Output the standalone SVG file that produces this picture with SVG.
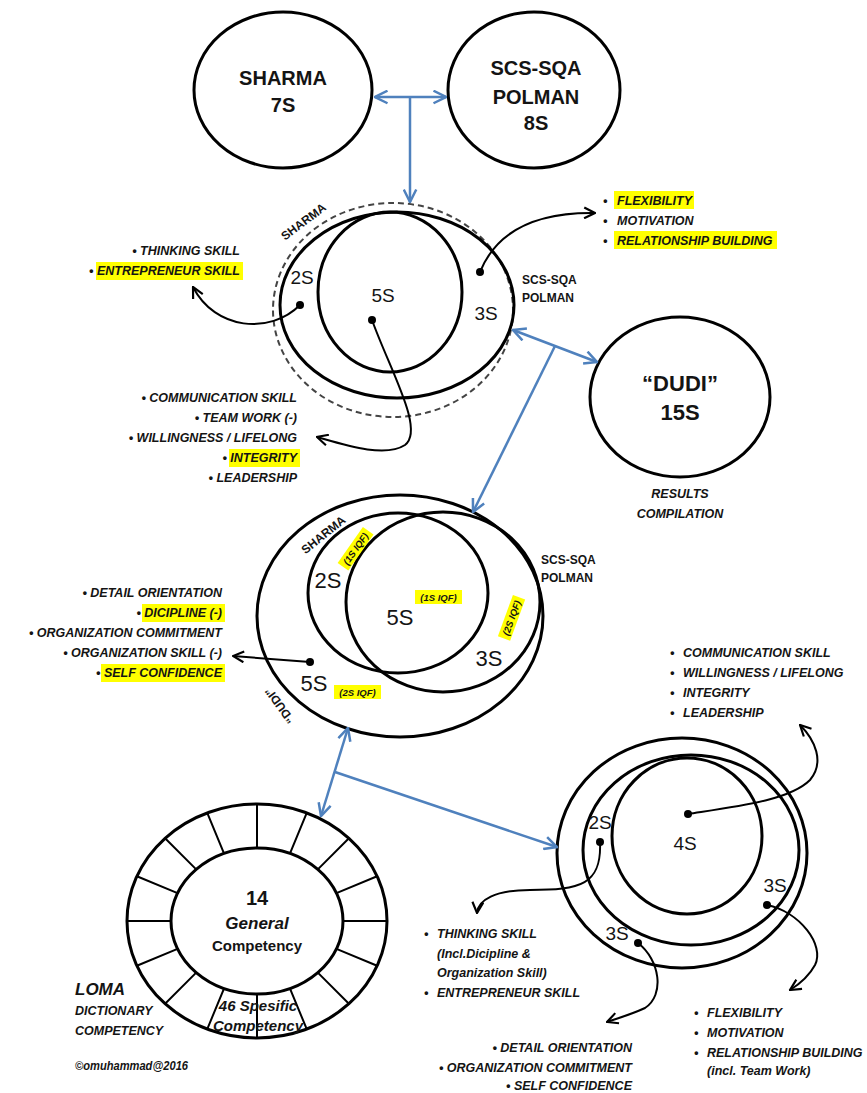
<svg xmlns="http://www.w3.org/2000/svg" width="867" height="1093" viewBox="0 0 867 1093">
<style>
text{font-family:"Liberation Sans",Arial,sans-serif;fill:#141414}
.c{fill:none;stroke:#000;stroke-width:3}
.d{fill:none;stroke:#444;stroke-width:2;stroke-dasharray:6 4}
.sp{stroke:#000;stroke-width:2}
.b{fill:none;stroke:#4f81bd;stroke-width:2.5}
.k{fill:none;stroke:#000;stroke-width:2}
.bi{font-weight:bold;font-style:italic;font-size:12.5px}
.big{font-weight:bold;font-size:20px}
.lab{font-size:19px}
.lab2{font-size:22px}
.sm{font-weight:bold;font-size:12px}
.iqf{font-weight:bold;font-style:italic;font-size:9.5px}
.hl{fill:#ffff00}
.dot{fill:#000}
.e{text-anchor:end}
.m{text-anchor:middle}
</style>
<defs>
<marker id="ak" viewBox="0 0 12 12" refX="11" refY="6" markerWidth="13" markerHeight="13" markerUnits="userSpaceOnUse" orient="auto-start-reverse"><path d="M1,1 L11,6 L1,11" fill="none" stroke="#000" stroke-width="2"/></marker>
<marker id="ab" viewBox="0 0 12 12" refX="11" refY="6" markerWidth="15" markerHeight="15" markerUnits="userSpaceOnUse" orient="auto-start-reverse"><path d="M1,1 L11,6 L1,11" fill="none" stroke="#4f81bd" stroke-width="2"/></marker>
</defs>
<rect width="867" height="1093" fill="#fff"/>

<g id="sharma-top">
<ellipse cx="283" cy="90" rx="89" ry="78" class="c"/>
<text x="283" y="85" class="big m">SHARMA</text>
<text x="283" y="112" class="big m">7S</text>
</g>

<g id="scs-top">
<ellipse cx="534" cy="90" rx="86" ry="78" class="c"/>
<text x="536" y="75" class="big m">SCS-SQA</text>
<text x="536" y="104" class="big m">POLMAN</text>
<text x="536" y="130" class="big m">8S</text>
</g>

<g id="venn-top">
<ellipse cx="393" cy="310" rx="120" ry="107" class="d"/>
<ellipse cx="397" cy="305" rx="117" ry="93" class="c"/>
<ellipse cx="390" cy="292" rx="72" ry="80" class="c"/>
<text transform="translate(306,225) rotate(-37)" class="sm m" font-size="12">SHARMA</text>
<text x="302" y="284" class="lab m">2S</text>
<text x="383" y="302" class="lab m">5S</text>
<text x="486" y="320" class="lab m">3S</text>
<circle cx="300" cy="305" r="4" class="dot"/>
<circle cx="372" cy="320" r="4" class="dot"/>
<circle cx="480" cy="272" r="4" class="dot"/>
<text x="522" y="284" class="sm">SCS-SQA</text>
<text x="522" y="302" class="sm">POLMAN</text>
</g>

<g id="list-top-left">
<rect x="96" y="262" width="147" height="18" class="hl"/>
<text x="240" y="255" class="bi e">• THINKING SKILL</text>
<text x="240" y="275" class="bi e">• ENTREPRENEUR SKILL</text>
</g>

<g id="list-top-right">
<rect x="614" y="191" width="80" height="18" class="hl"/>
<rect x="614" y="231" width="163" height="18" class="hl"/>
<text x="603" y="205" class="bi">•</text><text x="617" y="205" class="bi">FLEXIBILITY</text>
<text x="603" y="225" class="bi">•</text><text x="617" y="225" class="bi">MOTIVATION</text>
<text x="603" y="245" class="bi">•</text><text x="617" y="245" class="bi">RELATIONSHIP BUILDING</text>
</g>

<g id="list-top-bottom">
<rect x="229" y="449" width="71" height="18" class="hl"/>
<text x="297" y="402" class="bi e">• COMMUNICATION SKILL</text>
<text x="297" y="422" class="bi e">• TEAM WORK (-)</text>
<text x="297" y="442" class="bi e">• WILLINGNESS / LIFELONG</text>
<text x="297" y="462" class="bi e">• INTEGRITY</text>
<text x="297" y="482" class="bi e">• LEADERSHIP</text>
</g>

<g id="dudi">
<ellipse cx="680" cy="397" rx="90" ry="80" class="c"/>
<text x="680" y="391" class="m" font-size="22" font-weight="bold">“DUDI”</text>
<text x="680" y="420" class="m" font-size="22" font-weight="bold">15S</text>
<text x="680" y="498" class="bi m" font-size="13">RESULTS</text>
<text x="680" y="518" class="bi m" font-size="13">COMPILATION</text>
</g>

<g id="venn-mid">
<ellipse cx="400" cy="616" rx="143" ry="121" class="c"/>
<ellipse cx="398" cy="593" rx="90" ry="80" class="c"/>
<ellipse cx="443" cy="602" rx="97" ry="90" class="c"/>
<text transform="translate(326,538) rotate(-39)" class="sm m">SHARMA</text>
<text transform="translate(283,703) rotate(-126)" class="sm m">“DUDI”</text>
<g transform="translate(356,549) rotate(-55)"><rect x="-22" y="-7" width="44" height="13" class="hl"/><text y="3" class="iqf m">(1S IQF)</text></g>
<g transform="translate(512,618) rotate(-70)"><rect x="-22" y="-7" width="44" height="13" class="hl"/><text y="3" class="iqf m">(2S IQF)</text></g>
<rect x="415" y="590" width="47" height="14" class="hl"/><text x="438.5" y="600.5" class="iqf m">(1S IQF)</text>
<rect x="334" y="685" width="47" height="14" class="hl"/><text x="357.5" y="695.5" class="iqf m">(2S IQF)</text>
<text x="328" y="588" class="lab2 m">2S</text>
<text x="400" y="625" class="lab2 m">5S</text>
<text x="489" y="666" class="lab2 m">3S</text>
<text x="314" y="691" class="lab2 m">5S</text>
<circle cx="310" cy="662" r="4" class="dot"/>
<text x="541" y="564" class="sm">SCS-SQA</text>
<text x="541" y="582" class="sm">POLMAN</text>
</g>

<g id="list-mid-left">
<rect x="142" y="604" width="83" height="18" class="hl"/>
<rect x="101" y="664" width="124" height="18" class="hl"/>
<text x="222" y="597" class="bi e">• DETAIL ORIENTATION</text>
<text x="222" y="617" class="bi e">• DICIPLINE (-)</text>
<text x="222" y="637" class="bi e">• ORGANIZATION COMMITMENT</text>
<text x="222" y="657" class="bi e">• ORGANIZATION SKILL (-)</text>
<text x="222" y="677" class="bi e">• SELF CONFIDENCE</text>
</g>

<g id="loma">
<ellipse cx="257" cy="921" rx="130" ry="117" class="c"/>
<ellipse cx="257" cy="921" rx="86" ry="73" class="c"/>
<path class="sp" d="M343,921 L387,921 M336.45,948.94 L377.11,965.78 M317.81,972.62 L348.92,1003.73 M289.91,988.44 L306.75,1029.1 M257,994 L257,1038 M224.09,988.44 L207.25,1029.1 M196.19,972.62 L165.08,1003.73 M177.55,948.94 L136.89,965.78 M171,921 L127,921 M177.55,893.06 L136.89,876.22 M196.19,869.38 L165.08,838.27 M224.09,853.56 L207.25,812.9 M257,848 L257,804 M289.91,853.56 L306.75,812.9 M317.81,869.38 L348.92,838.27 M336.45,893.06 L377.11,876.22"/>
<text x="257" y="905" class="m" font-size="20" font-weight="bold">14</text>
<text x="257" y="929" class="m" font-size="17" font-weight="bold" font-style="italic">General</text>
<text x="257" y="951" class="m" font-size="15" font-weight="bold">Competency</text>
<text x="258" y="1011" class="m" font-size="15" font-weight="bold" font-style="italic">46 Spesific</text>
<text x="258" y="1031" class="m" font-size="15" font-weight="bold" font-style="italic">Competency</text>
<text x="75" y="995" font-size="17" font-weight="bold" font-style="italic">LOMA</text>
<text x="75" y="1015" class="bi" font-size="13">DICTIONARY</text>
<text x="75" y="1035" class="bi" font-size="13">COMPETENCY</text>
<text x="75" y="1070" class="bi" font-size="10" textLength="113" lengthAdjust="spacingAndGlyphs">©omuhammad@2016</text>
</g>

<g id="venn-bottom">
<ellipse cx="682" cy="853" rx="125" ry="115" class="c"/>
<ellipse cx="691" cy="850" rx="108" ry="95" class="c"/>
<ellipse cx="687" cy="836" rx="75" ry="78" class="c"/>
<text x="600" y="829" class="lab m" font-size="18">2S</text>
<text x="685" y="850" class="lab m" font-size="21">4S</text>
<text x="775" y="892" class="lab m" font-size="21">3S</text>
<text x="617" y="940" class="lab m" font-size="21">3S</text>
<circle cx="600" cy="842" r="4" class="dot"/>
<circle cx="688" cy="814" r="4" class="dot"/>
<circle cx="767" cy="905" r="4" class="dot"/>
<circle cx="638" cy="943" r="4" class="dot"/>
</g>

<g id="list-br-top">
<text x="670" y="657" class="bi">•</text><text x="683" y="657" class="bi">COMMUNICATION SKILL</text>
<text x="670" y="677" class="bi">•</text><text x="683" y="677" class="bi">WILLINGNESS / LIFELONG</text>
<text x="670" y="697" class="bi">•</text><text x="683" y="697" class="bi">INTEGRITY</text>
<text x="670" y="717" class="bi">•</text><text x="683" y="717" class="bi">LEADERSHIP</text>
</g>

<g id="list-br-thinking">
<text x="424" y="938" class="bi">•</text><text x="437" y="938" class="bi">THINKING SKILL</text>
<text x="437" y="958" class="bi">(Incl.Dicipline &amp;</text>
<text x="437" y="977" class="bi">Organization Skill)</text>
<text x="424" y="997" class="bi">•</text><text x="437" y="997" class="bi">ENTREPRENEUR SKILL</text>
</g>

<g id="list-br-detail">
<text x="632" y="1052" class="bi e">• DETAIL ORIENTATION</text>
<text x="632" y="1072" class="bi e">• ORGANIZATION COMMITMENT</text>
<text x="632" y="1090" class="bi e">• SELF CONFIDENCE</text>
</g>

<g id="list-br-flex">
<text x="694" y="1017" class="bi">•</text><text x="707" y="1017" class="bi">FLEXIBILITY</text>
<text x="694" y="1037" class="bi">•</text><text x="707" y="1037" class="bi">MOTIVATION</text>
<text x="694" y="1057" class="bi">•</text><text x="707" y="1057" class="bi">RELATIONSHIP BUILDING</text>
<text x="707" y="1075" class="bi">(incl. Team Work)</text>
</g>

<g id="connectors">
<path class="b" d="M375,97 L446,97" marker-start="url(#ab)" marker-end="url(#ab)"/>
<path class="b" d="M410,97 L410,202" marker-end="url(#ab)"/>
<path class="b" d="M513,330 L597,362" marker-start="url(#ab)" marker-end="url(#ab)"/>
<path class="b" d="M555,346 L473,512" marker-end="url(#ab)"/>
<path class="b" d="M348,728 L321,816" marker-start="url(#ab)" marker-end="url(#ab)"/>
<path class="b" d="M335,772 L557,847" marker-end="url(#ab)"/>
<path class="k" d="M300,305 C270,335 215,330 193,287" marker-end="url(#ak)"/>
<path class="k" d="M372,320 C390,370 425,430 405,445 C385,458 345,445 317,437" marker-end="url(#ak)"/>
<path class="k" d="M480,272 C495,235 530,212 595,213" marker-end="url(#ak)"/>
<path class="k" d="M310,662 L233,656" marker-end="url(#ak)"/>
<path class="k" d="M688,814 C740,806 790,800 810,780 C825,762 815,740 800,725" marker-end="url(#ak)"/>
<path class="k" d="M600,842 C602,885 580,890 530,890 C495,890 478,900 477,913" marker-end="url(#ak)"/>
<path class="k" d="M638,943 C660,960 665,995 645,1008 C630,1015 615,1019 607,1022" marker-end="url(#ak)"/>
<path class="k" d="M767,905 C800,912 825,945 815,965 C808,978 798,985 790,990" marker-end="url(#ak)"/>
</g>
</svg>
